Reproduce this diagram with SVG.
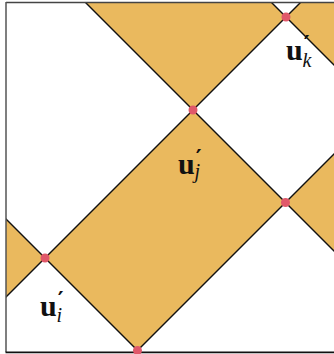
<svg xmlns="http://www.w3.org/2000/svg" width="334" height="354" viewBox="0 0 334 354">
<style>
.region{fill:#EAB95E;stroke:none}
.edge{stroke:#111;stroke-width:1.4;fill:none}
.node{fill:#E0586A}
.lbl{font-family:"Liberation Serif","DejaVu Serif",serif;fill:#111}
.u{font-weight:bold;font-size:30px}
.pr{font-family:"DejaVu Serif","Liberation Serif",serif;font-size:22px;font-weight:bold}
.sub{font-style:italic;font-size:20px}
</style>
<defs>
<clipPath id="frame"><rect x="6" y="3" width="328" height="349"/></clipPath>
</defs>
<rect x="0" y="0" width="334" height="354" fill="#fff"/>
<g id="regions" clip-path="url(#frame)">
<polygon class="region" points="86,3 272,3 286,17 193,110"/>
<polygon class="region" points="300,3 334,3 334,65 286,17"/>
<polygon class="region" points="193,110 285.5,202.5 137.5,350.5 45,258"/>
<polygon class="region" points="285.5,202.5 334,154 334,251"/>
<polygon class="region" points="6,219 45,258 6,297"/>
</g>
<g id="connectors" clip-path="url(#frame)">
<line class="edge" x1="0" y1="303" x2="303" y2="0"/>
<line class="edge" x1="130" y1="358" x2="340" y2="148"/>
<line class="edge" x1="80" y1="-3" x2="340" y2="257"/>
<line class="edge" x1="0" y1="213" x2="145" y2="358"/>
<line class="edge" x1="266" y1="-3" x2="340" y2="71"/>
</g>
<g id="frame-lines">
<line x1="6" y1="2.5" x2="334" y2="2.5" stroke="#444" stroke-width="1.3"/>
<line x1="6" y1="2" x2="6" y2="352" stroke="#555" stroke-width="1.5"/>
<line x1="5.5" y1="352.3" x2="334" y2="352.3" stroke="#111" stroke-width="1.8"/>
</g>
<g id="node-k"><circle class="node" cx="286" cy="17" r="4.5"/></g>
<g id="node-j-top"><circle class="node" cx="193" cy="110" r="4.5"/></g>
<g id="node-right"><circle class="node" cx="285.5" cy="202.5" r="4.5"/></g>
<g id="node-i"><circle class="node" cx="45" cy="258" r="4.5"/></g>
<g id="node-bottom"><circle class="node" cx="137.5" cy="350.5" r="4.5"/></g>
<g id="label-k">
<text class="lbl" x="286" y="60"><tspan class="u">u</tspan><tspan class="pr" dx="1" dy="-9">′</tspan><tspan class="sub" dx="-7" dy="16">k</tspan></text>
</g>
<g id="label-j">
<text class="lbl" x="178" y="174"><tspan class="u">u</tspan><tspan class="pr" dx="1" dy="-9">′</tspan><tspan class="sub" dx="-7" dy="13">j</tspan></text>
</g>
<g id="label-i">
<text class="lbl" x="40" y="316"><tspan class="u">u</tspan><tspan class="pr" dx="1" dy="-9">′</tspan><tspan class="sub" dx="-7" dy="15">i</tspan></text>
</g>
</svg>
